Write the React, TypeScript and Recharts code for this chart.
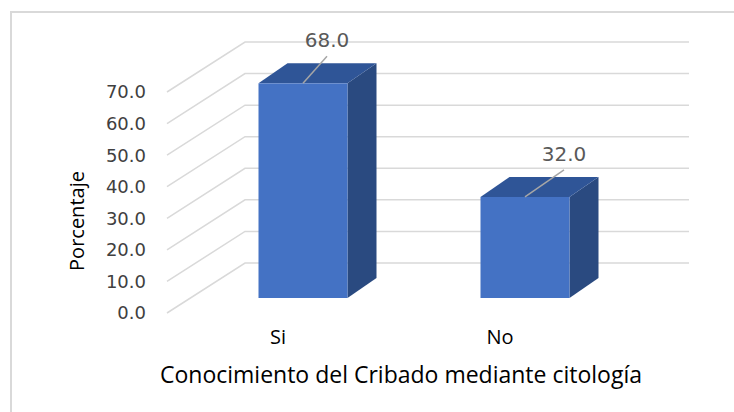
import React from "react";
import { BarChart, Bar, XAxis, YAxis, CartesianGrid, LabelList, Label } from "recharts";

const categories = ["Si", "No"];
const percentages = [68.0, 32.0];
const yTicks = [0, 10, 20, 30, 40, 50, 60, 70];

const data = categories.map((name, i) => ({ name, value: percentages[i] }));

// 3d look: bars sit a bit back from the floor's front edge
const BAR_DX = 24.5;
const BAR_DY = -15;
const DEPTH_DX = 29;
const DEPTH_DY = -20;
const WALL_DX = 78;
const WALL_DY = -50;
const LEADER_DX = [24, 39];

const FRONT = "#4472C4";
const TOP = "#2F5597";
const SIDE = "#2A4A80";
const GRID = "#D9D9D9";
const SANS = "'Open Sans', sans-serif";
const NUM = "'DejaVu Sans', sans-serif";

const Bar3D = (props: any) => {
  const { x, y, width, height } = props;
  const fx = x + BAR_DX;
  const fy = y + BAR_DY;
  const r = fx + width;
  return (
    <g>
      <polygon
        points={`${r},${fy + height} ${r + DEPTH_DX},${fy + height + DEPTH_DY} ${r + DEPTH_DX},${fy + DEPTH_DY} ${r},${fy}`}
        fill={SIDE}
      />
      <polygon
        points={`${fx},${fy} ${r},${fy} ${r + DEPTH_DX},${fy + DEPTH_DY} ${fx + DEPTH_DX},${fy + DEPTH_DY}`}
        fill={TOP}
      />
      <rect x={fx} y={fy} width={width} height={height} fill={FRONT} />
    </g>
  );
};

const wallLine = (props: any) => {
  const { x1, y1, x2, index } = props;
  return (
    <polyline
      key={`wall-${index}-${y1}`}
      points={`${x1},${y1} ${x1 + WALL_DX},${y1 + WALL_DY} ${x2 + WALL_DX},${y1 + WALL_DY}`}
      fill="none"
      stroke={GRID}
      strokeWidth={1.5}
    />
  );
};

const ValueLabel = (props: any) => {
  const vb = props.viewBox ?? props;
  const { x, y, width } = vb;
  const i = props.index ?? 0;
  const sx = x + width / 2 + BAR_DX;
  const sy = y + BAR_DY;
  const ex = sx + LEADER_DX[i % LEADER_DX.length];
  const ey = sy - 27;
  return (
    <g>
      <line x1={sx} y1={sy} x2={ex} y2={ey} stroke="#A6A6A6" strokeWidth={1.5} />
      <text x={ex} y={ey - 16} textAnchor="middle" dominantBaseline="central" fill="#595959" fontSize={20} fontFamily={NUM}>
        {Number(props.value).toFixed(1)}
      </text>
    </g>
  );
};

export default function App() {
  return (
    <div style={{ position: "absolute", left: 0, top: 0, width: 734, height: 412, overflow: "hidden", background: "#fff" }}>
      <div
        style={{
          position: "absolute",
          left: 10,
          top: 11,
          width: 900,
          height: 600,
          borderLeft: "2px solid #D9D9D9",
          borderTop: "2px solid #D9D9D9",
        }}
      />
      <div style={{ position: "absolute", left: 0, top: 0 }}>
        <BarChart width={734} height={412} data={data} margin={{ top: 92, right: 123, bottom: 29, left: 87 }}>
          <CartesianGrid vertical={false} horizontal={wallLine} />
          <YAxis
            domain={[0, 70]}
            ticks={yTicks}
            interval={0}
            width={80}
            axisLine={false}
            tickLine={false}
            tickSize={0}
            tickMargin={21}
            tickFormatter={(v: number) => v.toFixed(1)}
            tick={{ fill: "#404040", fontSize: 18, fontFamily: NUM }}
            label={
              <Label
                content={() => (
                  <text x={76} y={221} transform="rotate(-90 76 221)" textAnchor="middle" dominantBaseline="central" fill="#000" fontSize={20} fontFamily={SANS}>
                    Porcentaje
                  </text>
                )}
              />
            }
          />
          <XAxis
            dataKey="name"
            height={70}
            axisLine={false}
            tickLine={false}
            tickSize={0}
            tickMargin={17}
            tick={{ fill: "#000", fontSize: 20, fontFamily: SANS }}
            label={
              <Label
                content={() => (
                  <text x={401} y={374} textAnchor="middle" dominantBaseline="central" fill="#000" fontSize={23} fontFamily={SANS}>
                    Conocimiento del Cribado mediante citología
                  </text>
                )}
              />
            }
          />
          <Bar dataKey="value" barSize={89} shape={<Bar3D />} isAnimationActive={false}>
            <LabelList dataKey="value" content={<ValueLabel />} />
          </Bar>
        </BarChart>
      </div>
    </div>
  );
}
